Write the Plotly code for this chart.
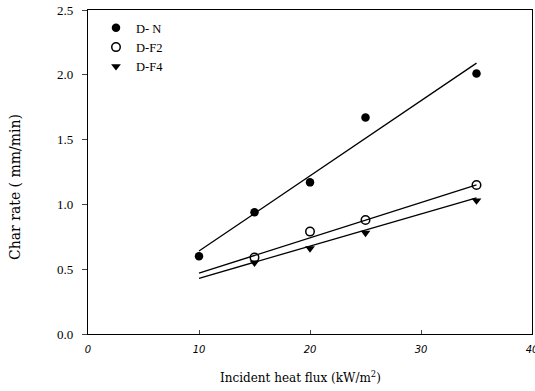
import plotly.graph_objects as go

# Data
dn_x = [10, 15, 20, 25, 35]
dn_y = [0.60, 0.94, 1.17, 1.67, 2.01]
f2_x = [15, 20, 25, 35]
f2_y = [0.59, 0.79, 0.88, 1.15]
f4_x = [15, 20, 25, 35]
f4_y = [0.55, 0.66, 0.78, 1.03]

# Fitted line endpoints
fit_x = [10, 35]
dn_fit = [0.64, 2.09]
f2_fit = [0.47, 1.15]
f4_fit = [0.43, 1.05]

x_ticks = [0, 10, 20, 30, 40]
y_ticks = [0.0, 0.5, 1.0, 1.5, 2.0, 2.5]
y_tick_text = ["0.0", "0.5", "1.0", "1.5", "2.0", "2.5"]

serif = "Liberation Serif, Times New Roman, serif"
wide_serif = "DejaVu Serif, serif"
W, H = 535, 391
ML, MR, MT, MB = 88, 3, 10, 57

fig = go.Figure()
for fy in [dn_fit, f2_fit, f4_fit]:
    fig.add_trace(go.Scatter(x=fit_x, y=fy, mode="lines",
                             line=dict(color="black", width=1.3),
                             showlegend=False, hoverinfo="skip"))

fig.add_trace(go.Scatter(x=dn_x, y=dn_y, mode="markers", name="D- N",
                         marker=dict(symbol="circle", size=8.5, color="black")))
fig.add_trace(go.Scatter(x=f2_x, y=f2_y, mode="markers", name="D-F2",
                         marker=dict(symbol="circle-open", size=8.5, color="black",
                                     line=dict(width=1.5))))
fig.add_trace(go.Scatter(x=f4_x, y=f4_y, mode="markers", name="D-F4",
                         marker=dict(symbol="triangle-down", size=8.5, color="black")))

pw = W - ML - MR
ph = H - MT - MB

fig.update_layout(
    width=W, height=H,
    margin=dict(l=ML, r=MR, t=MT, b=MB, autoexpand=False),
    paper_bgcolor="white", plot_bgcolor="white",
    font=dict(family=serif, color="black", size=11),
    showlegend=True,
    legend=dict(x=0.018, y=0.99, xanchor="left", yanchor="top",
                bgcolor="rgba(0,0,0,0)", font=dict(family=serif, size=12.5),
                tracegroupgap=0),
    xaxis=dict(range=[0, 40], tickvals=x_ticks, ticks="inside", ticklen=4,
               showline=True, linecolor="black", linewidth=1.2, mirror=True,
               showgrid=False, zeroline=False, ticklabeloverflow="allow",
               ticklabelstandoff=6, automargin=False,
               tickfont=dict(family="DejaVu Sans, sans-serif", size=10, style="italic")),
    yaxis=dict(range=[0, 2.5], tickvals=y_ticks, ticktext=y_tick_text,
               ticks="outside", ticklen=5, ticklabelstandoff=6, automargin=False,
               showline=True, linecolor="black", linewidth=1.2, mirror=True,
               showgrid=False, zeroline=False,
               tickfont=dict(family=serif, size=13)),
    annotations=[
        dict(text="Incident heat flux (kW/m<sup>2</sup>)", xref="paper", yref="paper",
             x=(300 - ML) / pw, y=-(377 - (H - MB)) / ph, xanchor="center", yanchor="middle",
             showarrow=False, font=dict(family=wide_serif, size=12)),
        dict(text="Char rate ( mm/min)", xref="paper", yref="paper",
             x=-(ML - 15) / pw, y=((H - MB) - 187) / ph, xanchor="center", yanchor="middle",
             textangle=-90, showarrow=False, font=dict(family=wide_serif, size=14)),
    ],
)

fig.write_html("out.html")
